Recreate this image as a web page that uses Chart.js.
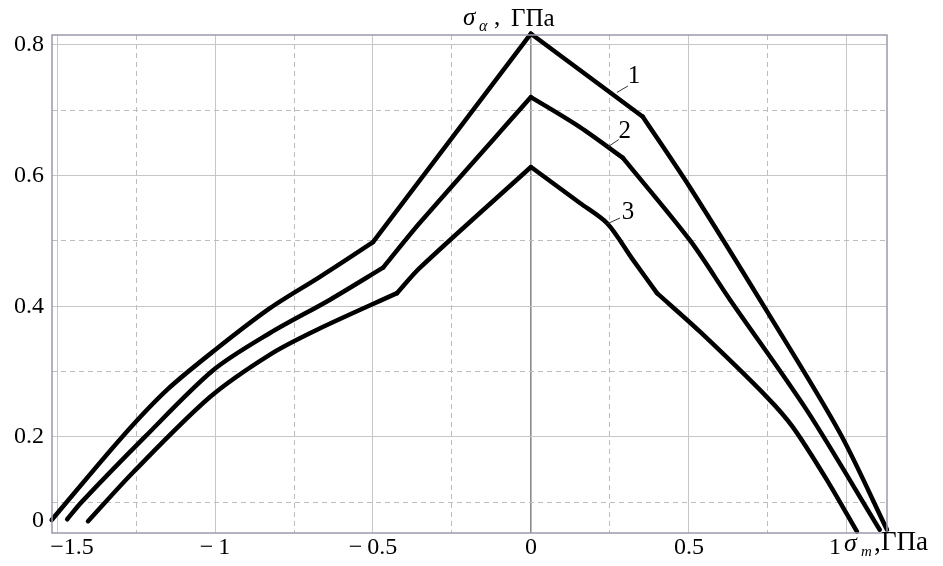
<!DOCTYPE html>
<html>
<head>
<meta charset="utf-8">
<script src="https://cdn.jsdelivr.net/npm/chart.js@4"></script>
<style>
  html, body { margin: 0; padding: 0; background: #ffffff; }
  #wrap { width: 943px; height: 566px; position: relative; }
</style>
</head>
<body>
<div id="wrap"><canvas id="c" width="943" height="566"></canvas></div>
<script>
// ---- data (σm, σa in GPa) ----
const curve1 = [[-1.517,0.073],[-1.294,0.200],[-1.152,0.272],[-1.000,0.333],[-0.826,0.397],[-0.668,0.445],[-0.500,0.498],[0,0.817],[0.354,0.690],[0.503,0.582],[0.741,0.397],[0.978,0.206],[1.127,0.058]];
const curve2 = [[-1.468,0.074],[-1.421,0.101],[-1.222,0.200],[-1.006,0.302],[-0.826,0.359],[-0.636,0.410],[-0.468,0.459],[-0.351,0.528],[0,0.720],[0.155,0.674],[0.291,0.627],[0.503,0.501],[0.630,0.410],[0.873,0.241],[1.104,0.058]];
const curve3 = [[-1.402,0.071],[-1.259,0.146],[-1.016,0.261],[-0.826,0.326],[-0.677,0.364],[-0.424,0.420],[-0.351,0.459],[0,0.613],[0.155,0.558],[0.241,0.527],[0.323,0.471],[0.399,0.420],[0.535,0.361],[0.747,0.261],[0.829,0.215],[0.937,0.134],[1.032,0.055]];
const curveNames = ["1", "2", "3"];
// indices of the sharp corners (kinks) of each curve
const curve1Kinks = [6, 7, 8];
const curve2Kinks = [6, 8, 10];
const curve3Kinks = [5, 7, 11];

// ---- axes ----
const xMin = -1.516, xMax = 1.127;
const yMin = 0.053, yMax = 0.815;
const xMajorTicks = [-1.5, -1, -0.5, 0, 0.5, 1];
const xTickLabels = ["\u2003\u2005\u22121.5", "\u2212\u20091", "\u2212\u20090.5", "0", "0.5", "1\u2003"];
const xMinorTicks = [-1.25, -0.75, -0.25, 0.25, 0.75];
const yMajorTicks = [0.072, 0.2, 0.4, 0.6, 0.8];
const yTickLabels = ["0", "0.2", "0.4", "0.6", "0.8"];
const yMinorTicks = [0.1, 0.3, 0.5, 0.7];

// curve label annotations: [labelX, labelY, leaderX1, leaderY1, leaderX2, leaderY2]
const curveLabelPos = [
  [0.326, 0.751, 0.272, 0.727, 0.307, 0.737],
  [0.297, 0.668, 0.244, 0.644, 0.278, 0.655],
  [0.307, 0.544, 0.241, 0.526, 0.282, 0.535]
];

const SERIF = "'Liberation Serif', 'DejaVu Serif', serif";
const toPts = arr => arr.map(p => ({x: p[0], y: p[1]}));

const decorPlugin = {
  id: 'decor',
  afterDraw(chart) {
    const {ctx, chartArea: a, scales} = chart;
    const xs = scales.x, ys = scales.y;
    ctx.save();
    // frame
    ctx.strokeStyle = '#9a9aac';
    ctx.lineWidth = 1.5;
    ctx.strokeRect(a.left, a.top, a.right - a.left, a.bottom - a.top);
    // leaders and curve labels
    ctx.fillStyle = '#000';
    ctx.strokeStyle = '#333';
    ctx.lineWidth = 1;
    ctx.font = "25px " + SERIF;
    ctx.textAlign = 'center';
    ctx.textBaseline = 'middle';
    curveLabelPos.forEach((p, i) => {
      ctx.beginPath();
      ctx.moveTo(xs.getPixelForValue(p[2]), ys.getPixelForValue(p[3]));
      ctx.lineTo(xs.getPixelForValue(p[4]), ys.getPixelForValue(p[5]));
      ctx.stroke();
      ctx.fillText(curveNames[i], xs.getPixelForValue(p[0]), ys.getPixelForValue(p[1]));
    });
    // top axis title: σα, ГПа
    const x0 = xs.getPixelForValue(0);
    ctx.textAlign = 'left';
    ctx.textBaseline = 'alphabetic';
    ctx.font = "italic 25px " + SERIF;
    ctx.fillText("\u03C3", x0 - 68, 25);
    ctx.font = "italic 16px " + SERIF;
    ctx.fillText("\u03B1", x0 - 52, 31);
    ctx.font = "25px " + SERIF;
    ctx.fillText(",", x0 - 37, 25);
    ctx.fillText("\u0413\u041F\u0430", x0 - 20, 26);
    // bottom-right axis title: σm, ГПа
    const xr = a.right;
    ctx.font = "italic 26px " + SERIF;
    ctx.fillText("\u03C3", xr - 43, 551);
    ctx.font = "italic 15px " + SERIF;
    ctx.fillText("m", xr - 26, 556);
    ctx.font = "27px " + SERIF;
    ctx.fillText(",", xr - 13, 551);
    ctx.fillText("\u0413\u041F\u0430", xr - 6, 550);
    ctx.restore();
  }
};

// split a curve at its kinks into smooth pieces (shared end points)
function pieces(pts, kinks) {
  const cuts = [0, ...kinks, pts.length - 1];
  const out = [];
  for (let i = 0; i < cuts.length - 1; i++) out.push(pts.slice(cuts[i], cuts[i + 1] + 1));
  return out;
}
const lineDs = (label, pts) => ({
  label, data: toPts(pts),
  borderColor: '#000', borderWidth: 4.5, pointRadius: 0,
  tension: 0.3, fill: false, clip: 6, borderJoinStyle: 'miter', borderCapStyle: 'round'
});
const datasets = [];
[[curve1, curve1Kinks], [curve2, curve2Kinks], [curve3, curve3Kinks]].forEach((c, i) => {
  pieces(c[0], c[1]).forEach(p => datasets.push(lineDs(curveNames[i], p)));
});

new Chart(document.getElementById('c'), {
  type: 'line',
  data: { datasets },
  plugins: [decorPlugin],
  options: {
    responsive: false,
    animation: false,
    events: [],
    layout: { padding: { left: 0, right: 56, top: 35, bottom: 0 } },
    plugins: { legend: { display: false }, tooltip: { enabled: false }, title: { display: false } },
    scales: {
      x: {
        type: 'linear', position: 'bottom', min: xMin, max: xMax,
        afterBuildTicks: s => { s.ticks = xMajorTicks.map(v => ({value: v})); },
        afterFit: s => { s.height = 33; },
        ticks: {
          autoSkip: false, maxRotation: 0, padding: 0, color: '#000',
          font: { family: SERIF, size: 24 },
          callback: (v) => { const i = xMajorTicks.indexOf(v); return i >= 0 ? xTickLabels[i] : ''; }
        },
        grid: { drawTicks: false, lineWidth: c => (c.tick && c.tick.value === 0) ? 1.6 : 1,
                color: c => (c.tick && c.tick.value === 0) ? '#8a8a8a' : '#c6c6c6' },
        border: { display: false }
      },
      x2: {
        type: 'linear', position: 'bottom', min: xMin, max: xMax,
        afterBuildTicks: s => { s.ticks = xMinorTicks.map(v => ({value: v})); },
        afterFit: s => { s.height = 0; },
        ticks: { display: false },
        grid: { drawTicks: false, color: '#bdbdbd', lineWidth: 1 },
        border: { display: false, dash: [5, 4] }
      },
      y: {
        type: 'linear', position: 'left', min: yMin, max: yMax,
        afterBuildTicks: s => { s.ticks = yMajorTicks.map(v => ({value: v})); },
        afterFit: s => { s.width = 52; },
        ticks: {
          autoSkip: false, padding: 8, color: '#000',
          font: { family: SERIF, size: 24 },
          callback: (v) => { const i = yMajorTicks.indexOf(v); return i >= 0 ? yTickLabels[i] : ''; }
        },
        grid: { drawTicks: false, lineWidth: 1,
                color: c => (c.tick && c.tick.value === yMajorTicks[0]) ? 'rgba(0,0,0,0)' : '#c6c6c6' },
        border: { display: false }
      },
      y2: {
        type: 'linear', position: 'left', min: yMin, max: yMax,
        afterBuildTicks: s => { s.ticks = yMinorTicks.map(v => ({value: v})); },
        afterFit: s => { s.width = 0; },
        ticks: { display: false },
        grid: { drawTicks: false, color: '#bdbdbd', lineWidth: 1 },
        border: { display: false, dash: [5, 4] }
      }
    }
  }
});
</script>
</body>
</html>
